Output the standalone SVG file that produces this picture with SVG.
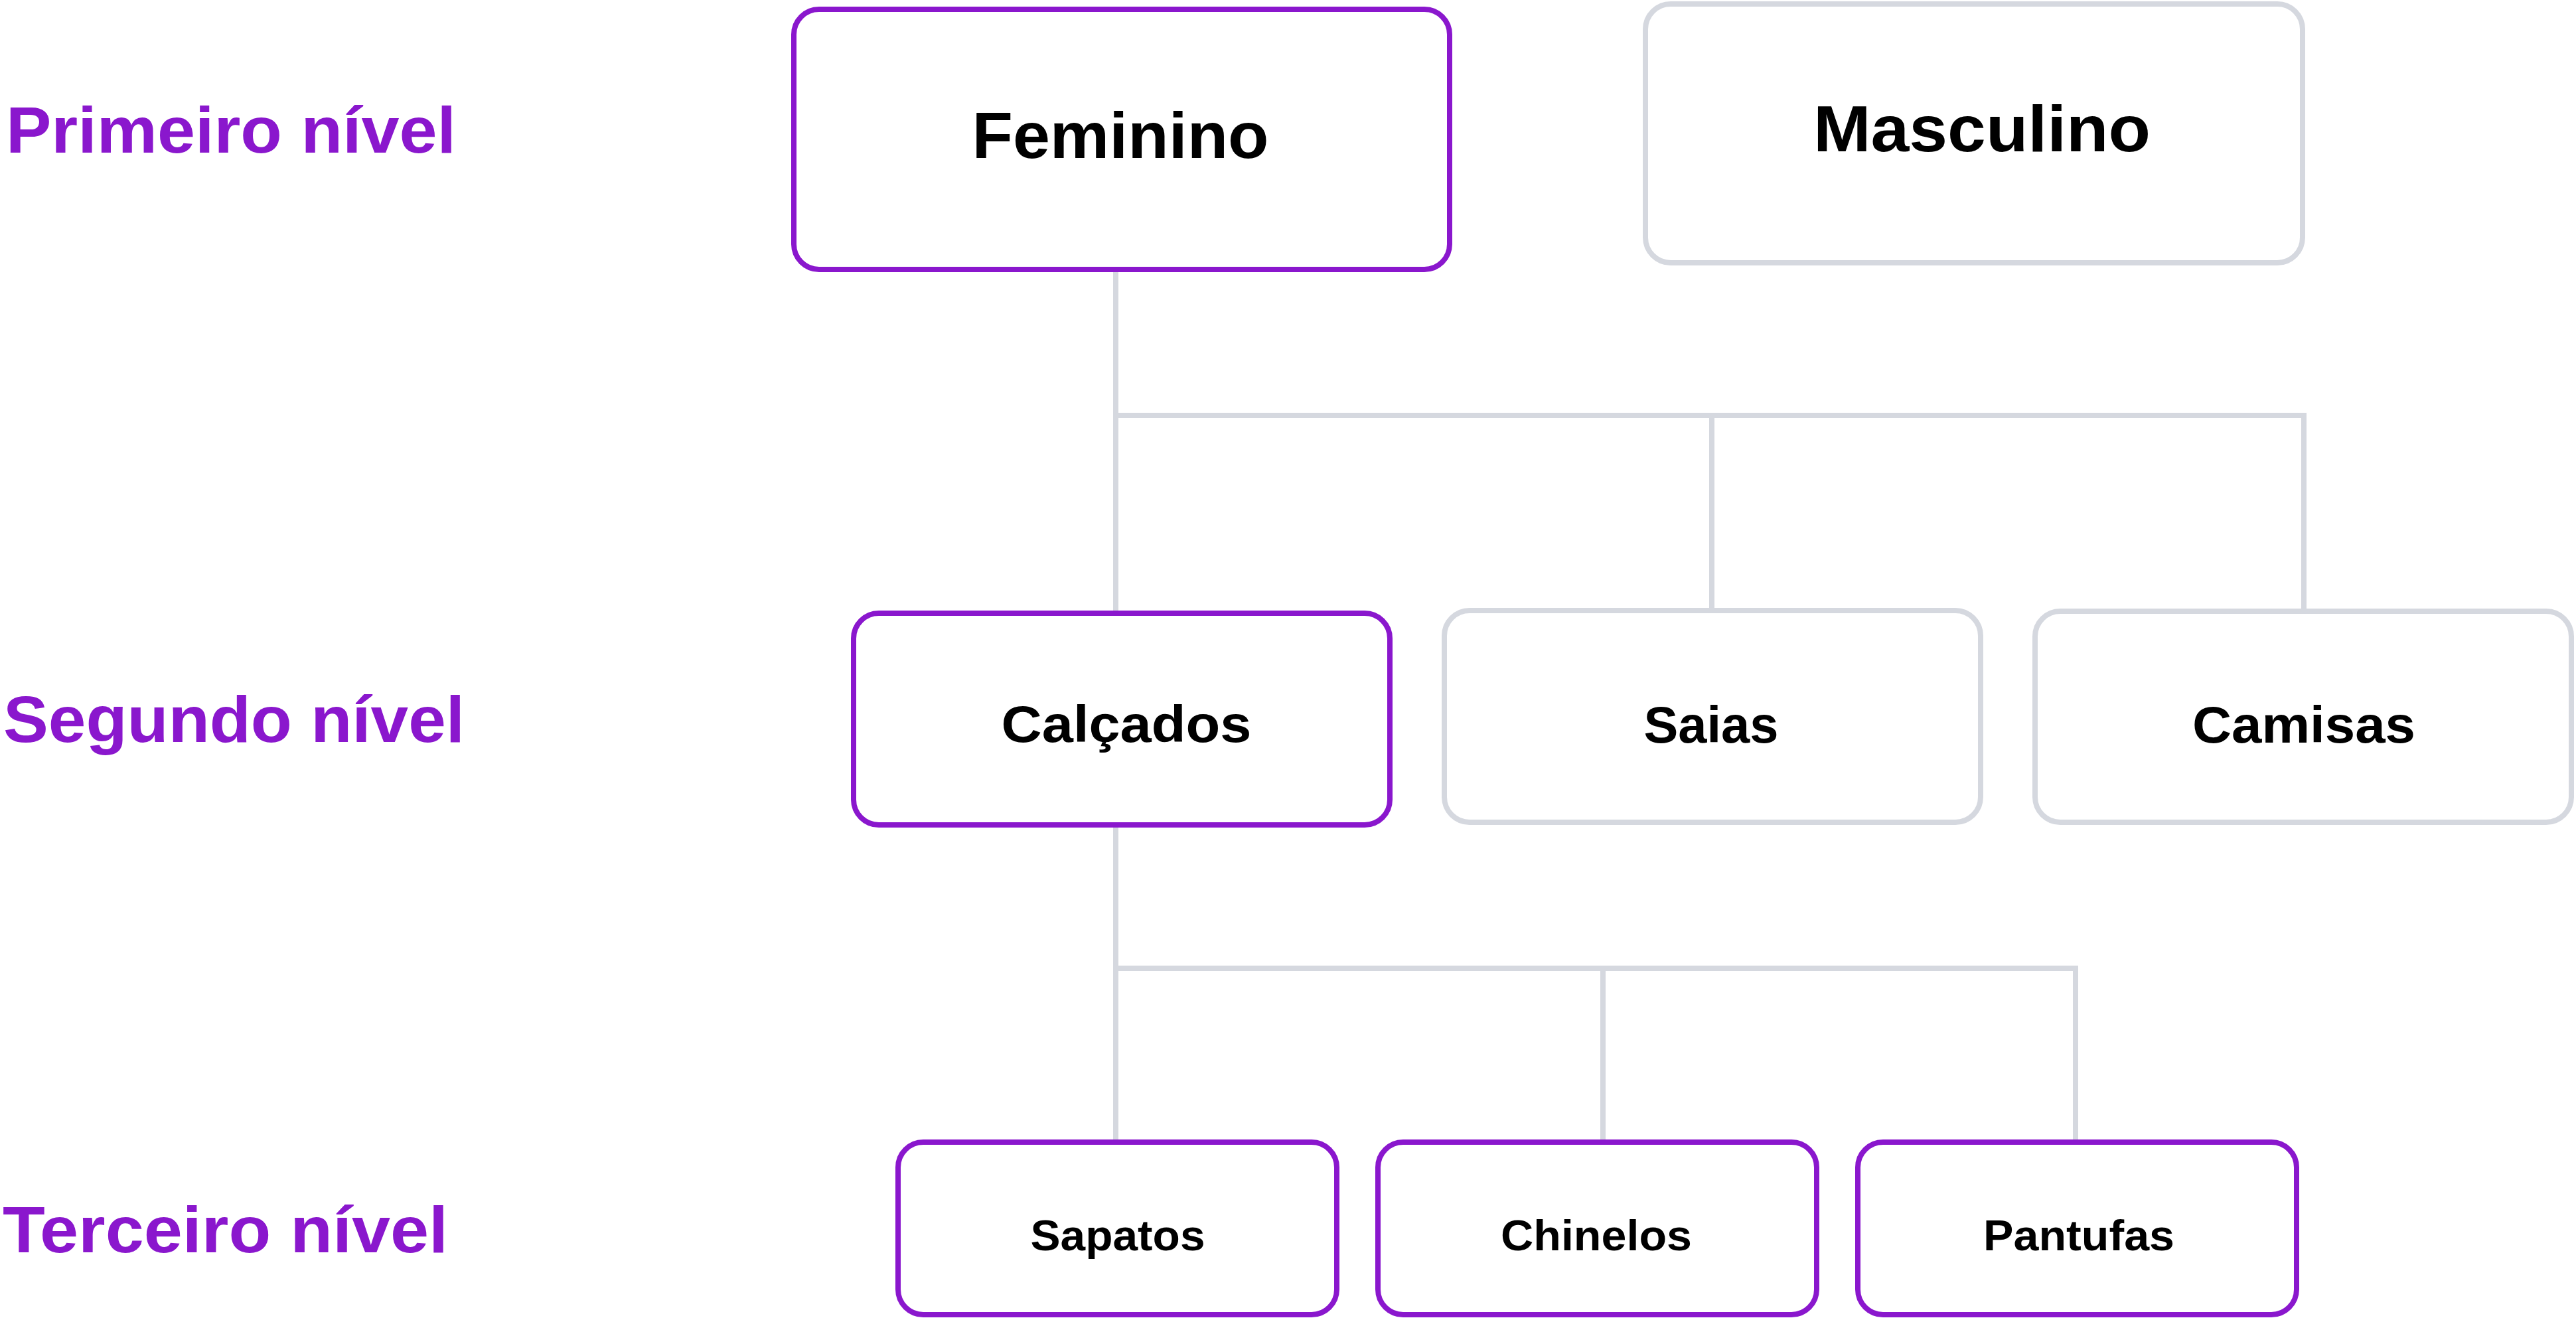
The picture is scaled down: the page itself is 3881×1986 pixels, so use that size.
<svg xmlns="http://www.w3.org/2000/svg" width="3881" height="1986" viewBox="0 0 3881 1986">
<style>
.bg{fill:#ffffff}
.node{fill:#ffffff;stroke-width:8}
.hi{stroke:#8A17CD}
.lo{stroke:#D5D8DF}
.conn{fill:none;stroke:#D5D8DF;stroke-width:8;stroke-linecap:butt}
.lvl{font-family:"Liberation Sans",Arial,sans-serif;font-weight:700;fill:#8A17CD;font-size:98px}
.t1{font-family:"Liberation Sans",Arial,sans-serif;font-weight:700;fill:#000;font-size:98px;text-anchor:middle}
.t2{font-family:"Liberation Sans",Arial,sans-serif;font-weight:700;fill:#000;font-size:78px;text-anchor:middle}
.t3{font-family:"Liberation Sans",Arial,sans-serif;font-weight:700;fill:#000;font-size:65px;text-anchor:middle}
</style>
<rect class="bg" x="0" y="0" width="3881" height="1986"/>

<g id="labels">
<text class="lvl" x="9" y="230" textLength="678" lengthAdjust="spacingAndGlyphs">Primeiro nível</text>
<text class="lvl" x="5" y="1118" textLength="695" lengthAdjust="spacingAndGlyphs">Segundo nível</text>
<text class="lvl" x="4" y="1887" textLength="671" lengthAdjust="spacingAndGlyphs">Terceiro nível</text>
</g>

<g id="connectors">
<path class="conn" d="M1681 410 V920 M1677 626 H3475 M2579 626 V917 M3471 626 V917"/>
<path class="conn" d="M1681 1247 V1717 M1677 1459 H3131 M2415 1459 V1717 M3127 1459 V1717"/>
</g>

<g id="node-feminino">
<rect class="node hi" x="1196" y="14" width="988" height="392" rx="38" ry="38"/>
<text class="t1" x="1688" y="238" textLength="447" lengthAdjust="spacingAndGlyphs">Feminino</text>
</g>
<g id="node-masculino">
<rect class="node lo" x="2479" y="6" width="990" height="390" rx="38" ry="38"/>
<text class="t1" x="2986" y="228" textLength="508" lengthAdjust="spacingAndGlyphs">Masculino</text>
</g>

<g id="node-calcados">
<rect class="node hi" x="1286" y="924" width="808" height="319" rx="38" ry="38"/>
<text class="t2" x="1697" y="1118" textLength="377" lengthAdjust="spacingAndGlyphs">Calçados</text>
</g>
<g id="node-saias">
<rect class="node lo" x="2176" y="920" width="808" height="319" rx="38" ry="38"/>
<text class="t2" x="2578" y="1119" textLength="203" lengthAdjust="spacingAndGlyphs">Saias</text>
</g>
<g id="node-camisas">
<rect class="node lo" x="3066" y="921" width="808" height="318" rx="38" ry="38"/>
<text class="t2" x="3471" y="1119" textLength="336" lengthAdjust="spacingAndGlyphs">Camisas</text>
</g>

<g id="node-sapatos">
<rect class="node hi" x="1353" y="1721" width="661" height="260" rx="38" ry="38"/>
<text class="t3" x="1684" y="1884" textLength="263" lengthAdjust="spacingAndGlyphs">Sapatos</text>
</g>
<g id="node-chinelos">
<rect class="node hi" x="2076" y="1721" width="661" height="260" rx="38" ry="38"/>
<text class="t3" x="2405" y="1884" textLength="288" lengthAdjust="spacingAndGlyphs">Chinelos</text>
</g>
<g id="node-pantufas">
<rect class="node hi" x="2799" y="1721" width="661" height="260" rx="38" ry="38"/>
<text class="t3" x="3132" y="1884" textLength="288" lengthAdjust="spacingAndGlyphs">Pantufas</text>
</g>
</svg>
